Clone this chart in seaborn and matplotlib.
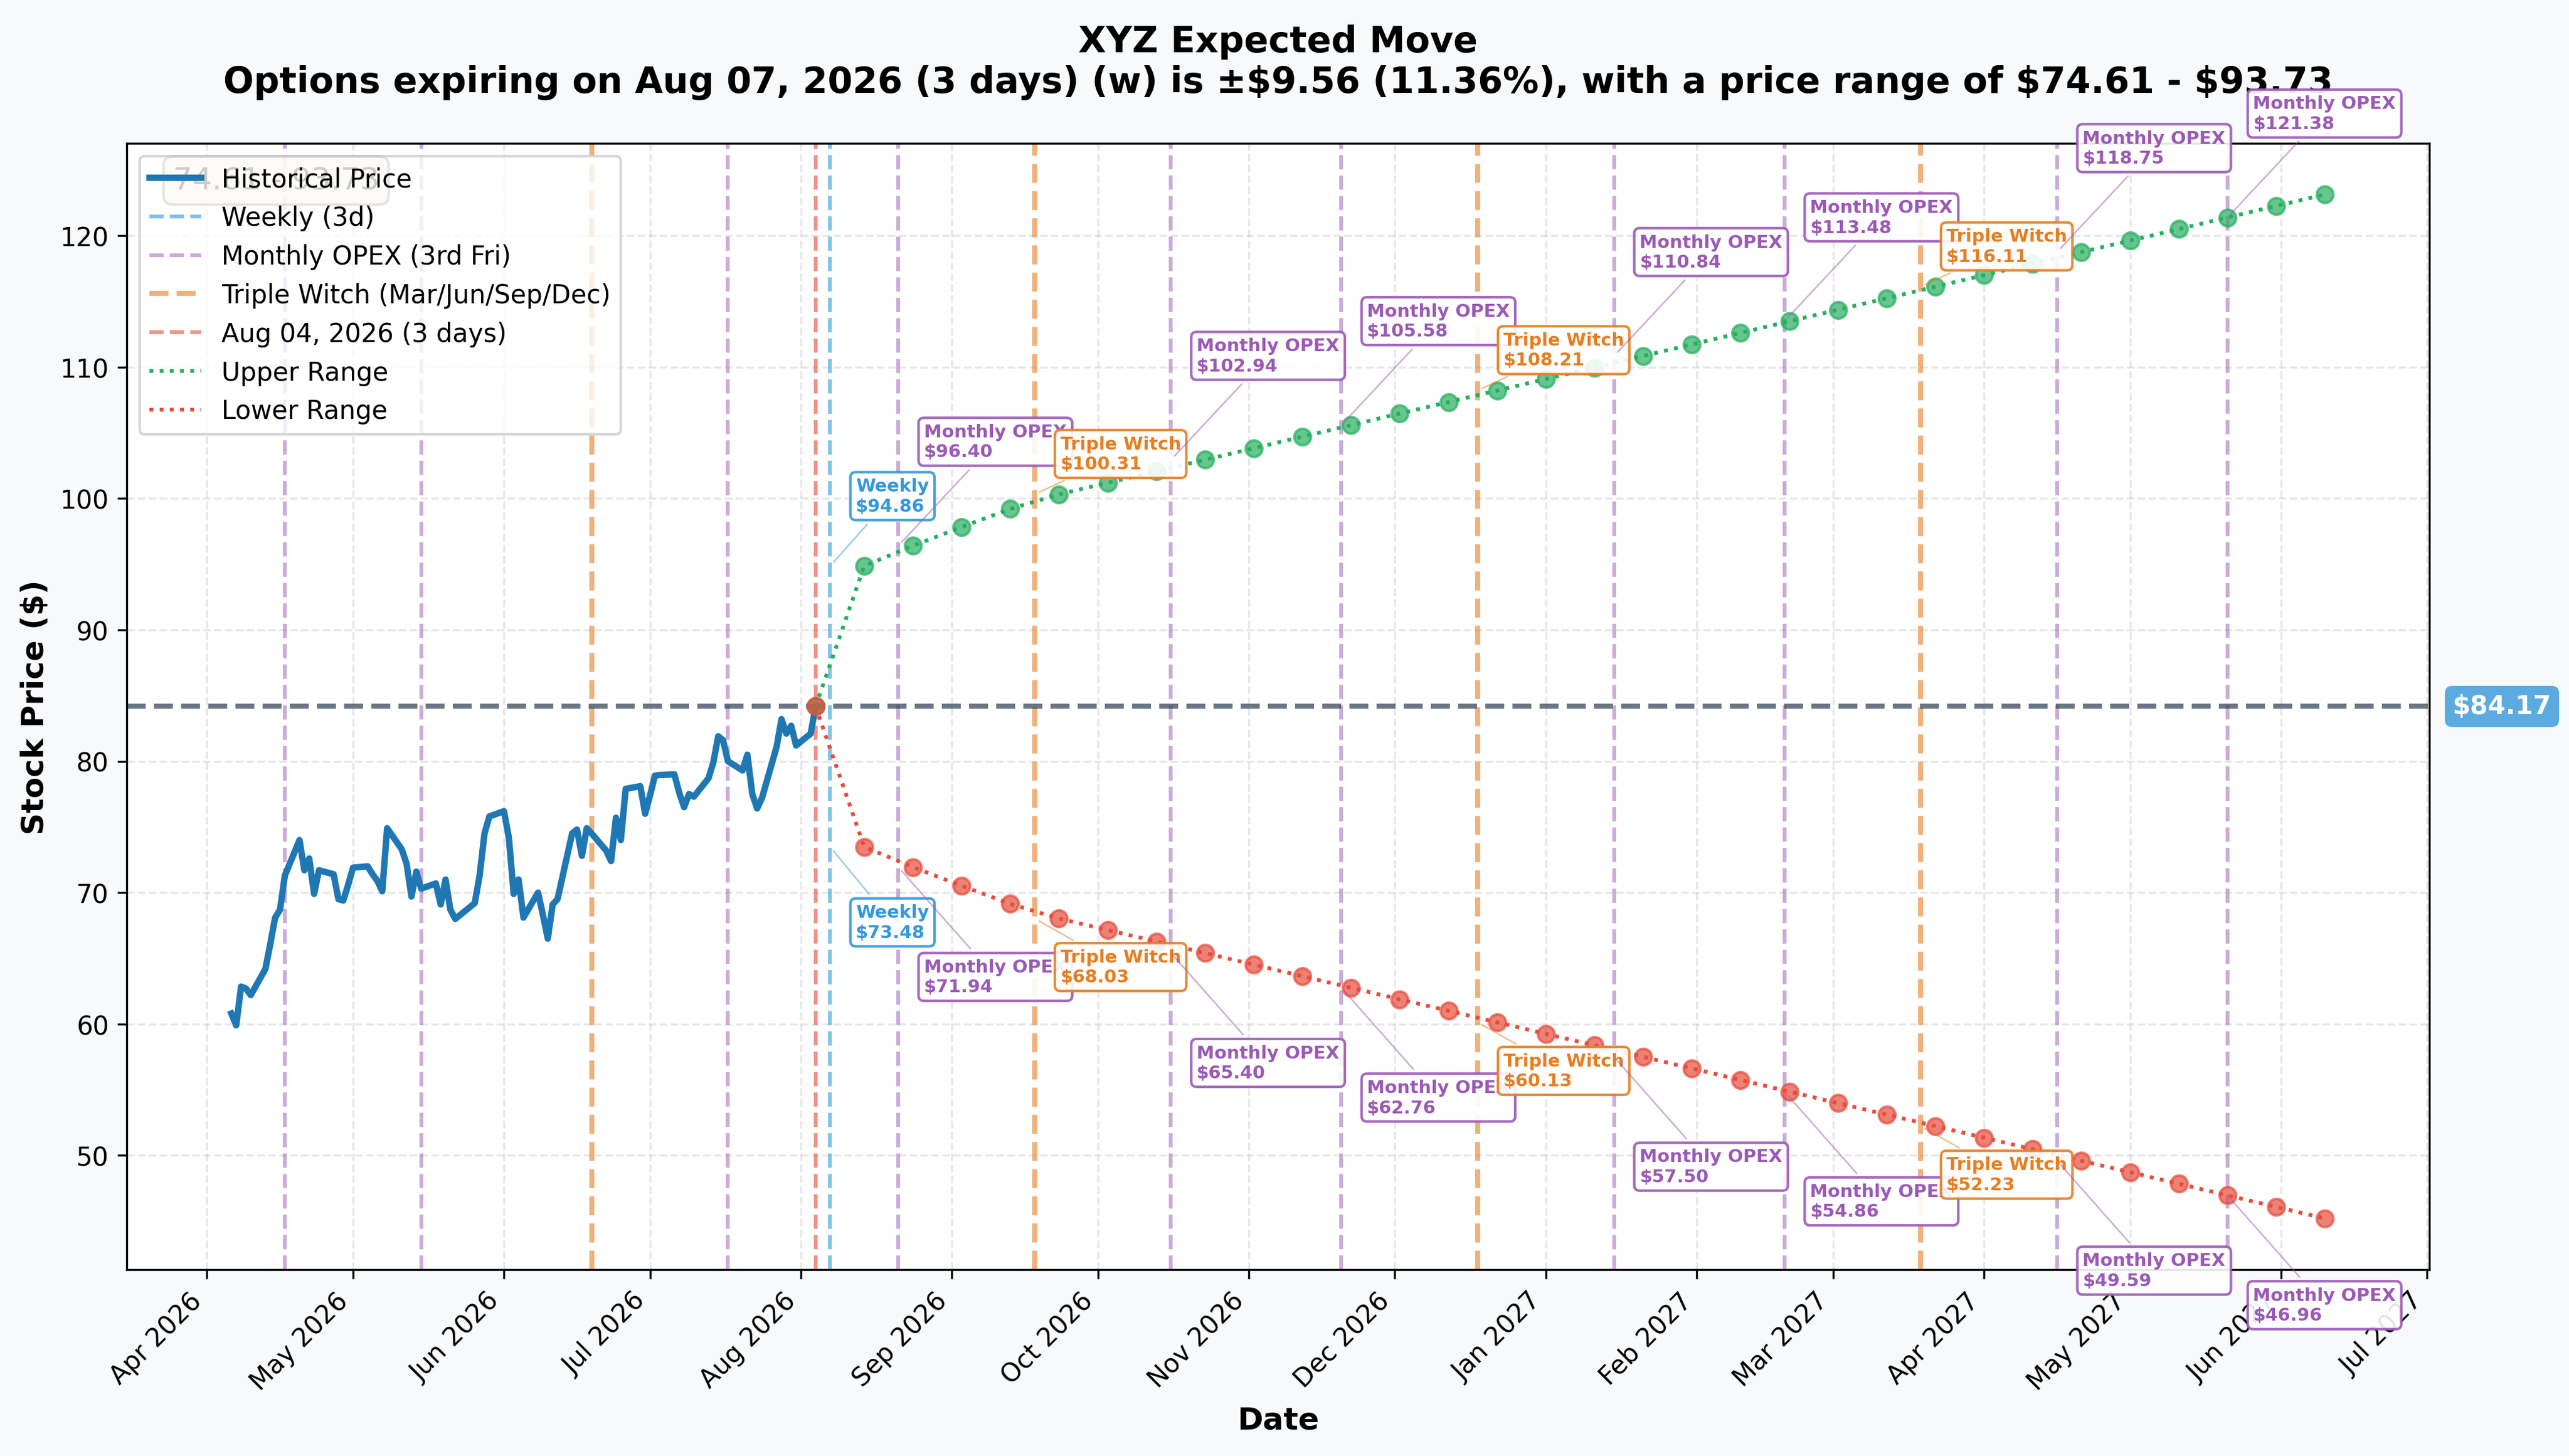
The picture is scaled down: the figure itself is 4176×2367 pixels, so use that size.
import pandas as pd
import matplotlib
matplotlib.use('Agg')
import matplotlib.pyplot as plt
import matplotlib.dates as mdates
import seaborn as sns

# daily closes, business days Apr 06 - Aug 04 2026
hist_dates = pd.bdate_range('2026-04-06', '2026-08-04')
hist_close = [
    60.8, 59.9, 62.85, 62.7, 62.2,
    64.2, 66.1, 68.1, 68.7, 71.3,
    74.0, 71.7, 72.6, 69.9, 71.7,
    71.4, 69.5, 69.4, 70.6, 71.9,
    72.0, 71.4, 70.9, 70.1, 74.9,
    73.3, 72.2, 69.7, 71.6, 70.3,
    70.7, 69.1, 71.0, 68.7, 68.0,
    68.9, 69.2, 71.3, 74.5, 75.8,
    76.2, 74.2, 69.9, 71.0, 68.1,
    70.0, 68.3, 66.5, 69.1, 69.5,
    74.5, 74.8, 72.8, 74.9, 74.5,
    73.2, 72.4, 75.7, 74.0, 77.9,
    78.1, 76.0, 77.4, 78.9, 78.95,
    79.0, 77.6, 76.5, 77.5, 77.3,
    78.7, 79.9, 81.9, 81.6, 80.0,
    79.3, 80.5, 77.5, 76.4, 77.2,
    81.1, 83.2, 82.1, 82.7, 81.2,
    82.1, 84.17,
]

current_date = '2026-08-04'
current_price = 84.17

# projected range points
range_dates = [
    '2026-08-14', '2026-08-24', '2026-09-03', '2026-09-13', '2026-09-23',
    '2026-10-03', '2026-10-13', '2026-10-23', '2026-11-02', '2026-11-12',
    '2026-11-22', '2026-12-02', '2026-12-12', '2026-12-22', '2027-01-01',
    '2027-01-11', '2027-01-21', '2027-01-31', '2027-02-10', '2027-02-20',
    '2027-03-02', '2027-03-12', '2027-03-22', '2027-04-01', '2027-04-11',
    '2027-04-21', '2027-05-01', '2027-05-11', '2027-05-21', '2027-05-31',
    '2027-06-10',
]
upper_range = [
    94.86, 96.40, 97.82, 99.20, 100.31, 101.19, 102.06, 102.94, 103.82, 104.70,
    105.58, 106.46, 107.33, 108.21, 109.09, 109.96, 110.84, 111.72, 112.60, 113.48,
    114.36, 115.23, 116.11, 116.99, 117.87, 118.75, 119.62, 120.50, 121.38, 122.26,
    123.13,
]
lower_range = [
    73.48, 71.94, 70.52, 69.14, 68.03, 67.15, 66.28, 65.40, 64.52, 63.64,
    62.76, 61.88, 61.01, 60.13, 59.25, 58.38, 57.50, 56.62, 55.74, 54.86,
    53.98, 53.11, 52.23, 51.35, 50.47, 49.59, 48.72, 47.84, 46.96, 46.08,
    45.21,
]

weekly_date = '2026-08-07'
opex_dates = ['2026-04-17', '2026-05-15', '2026-07-17', '2026-08-21', '2026-10-16',
              '2026-11-20', '2027-01-15', '2027-02-19', '2027-04-16', '2027-05-21']
witch_dates = ['2026-06-19', '2026-09-18', '2026-12-18', '2027-03-19']

# labelled expirations
event_dates = ['2026-08-07', '2026-08-21', '2026-09-18', '2026-10-16', '2026-11-20',
               '2026-12-18', '2027-01-15', '2027-02-19', '2027-03-19', '2027-04-16',
               '2027-05-21']
event_kinds = ['Weekly', 'Monthly OPEX', 'Triple Witch', 'Monthly OPEX', 'Monthly OPEX',
               'Triple Witch', 'Monthly OPEX', 'Monthly OPEX', 'Triple Witch',
               'Monthly OPEX', 'Monthly OPEX']
event_upper = [94.86, 96.40, 100.31, 102.94, 105.58, 108.21, 110.84, 113.48, 116.11, 118.75, 121.38]
event_lower = [73.48, 71.94, 68.03, 65.40, 62.76, 60.13, 57.50, 54.86, 52.23, 49.59, 46.96]

kind_color = {'Weekly': '#3498db', 'Monthly OPEX': '#9b59b6', 'Triple Witch': '#e67e22'}
kind_offset = {'Weekly': (20.0, 22.2), 'Monthly OPEX': (33.3, 35.6), 'Triple Witch': (8.5, 11.7)}

fig = plt.figure(figsize=(13.92, 7.8933), dpi=300, facecolor='#f8f9fa')
ax = fig.add_axes([0.0493, 0.128, 0.8964, 0.7732])
ax.set_facecolor('white')

# price history
sns.lineplot(x=hist_dates, y=hist_close, color='#1f77b4', linewidth=2.5,
             label='Historical Price', ax=ax, zorder=3)

# expected range
proj_dates = pd.to_datetime([current_date] + range_dates)
upper_line = [current_price] + upper_range
lower_line = [current_price] + lower_range
sns.lineplot(x=proj_dates, y=upper_line, color='#27ae60', linestyle=':', linewidth=1.5,
             label='Upper Range', ax=ax, zorder=3)
sns.lineplot(x=proj_dates, y=lower_line, color='#e74c3c', linestyle=':', linewidth=1.5,
             label='Lower Range', ax=ax, zorder=3)
sns.scatterplot(x=proj_dates, y=upper_line, color='#27ae60', s=42, alpha=0.7,
                edgecolor='#27ae60', linewidth=1, ax=ax, zorder=4, legend=False)
sns.scatterplot(x=proj_dates, y=lower_line, color='#e74c3c', s=42, alpha=0.7,
                edgecolor='#e74c3c', linewidth=1, ax=ax, zorder=4, legend=False)

# expiration markers
ax.axvline(pd.Timestamp(weekly_date), color='#3498db', linestyle='--', linewidth=1.5,
           alpha=0.6, label='Weekly (3d)', zorder=2)
for i, d in enumerate(opex_dates):
    ax.axvline(pd.Timestamp(d), color='#9b59b6', linestyle='--', linewidth=1.5, alpha=0.5,
               label='Monthly OPEX (3rd Fri)' if i == 0 else None, zorder=2)
for i, d in enumerate(witch_dates):
    ax.axvline(pd.Timestamp(d), color='#e67e22', linestyle='--', linewidth=2, alpha=0.6,
               label='Triple Witch (Mar/Jun/Sep/Dec)' if i == 0 else None, zorder=2)
ax.axvline(pd.Timestamp(current_date), color='#e74c3c', linestyle='--', linewidth=1.5,
           alpha=0.6, label='Aug 04, 2026 (3 days)', zorder=2)

ax.axhline(current_price, color='#2c3e50', linestyle='--', linewidth=2, alpha=0.7, zorder=2)
ax.text(1.01, current_price, f'${current_price:.2f}', transform=ax.get_yaxis_transform(),
        ha='left', va='center', fontsize=10, fontweight='bold', color='white',
        bbox=dict(boxstyle='round,pad=0.3', facecolor='#3498db', edgecolor='none', alpha=0.8),
        clip_on=False)

for d, kind, up, lo in zip(event_dates, event_kinds, event_upper, event_lower):
    c = kind_color[kind]
    up_off, lo_off = kind_offset[kind]
    box = dict(boxstyle='round,pad=0.3', facecolor='white', edgecolor=c, alpha=0.9, linewidth=1)
    arrow = dict(arrowstyle='-', color=c, alpha=0.5, lw=0.6)
    ax.annotate(f'{kind}\n${up:.2f}', xy=(pd.Timestamp(d), up), xytext=(10, up_off),
                textcoords='offset points', ha='left', va='bottom', fontsize=7,
                fontweight='bold', color=c, bbox=box, arrowprops=arrow, zorder=6)
    ax.annotate(f'{kind}\n${lo:.2f}', xy=(pd.Timestamp(d), lo), xytext=(10, -lo_off),
                textcoords='offset points', ha='left', va='top', fontsize=7,
                fontweight='bold', color=c, bbox=box, arrowprops=arrow, zorder=6)

ax.text(0.02, 0.98, '74.61 - 93.73', transform=ax.transAxes, fontsize=12,
        ha='left', va='top', bbox=dict(boxstyle='round', facecolor='wheat', alpha=0.5), zorder=3)

ax.set_title('XYZ Expected Move\nOptions expiring on Aug 07, 2026 (3 days) (w) is ±$9.56 (11.36%), '
             'with a price range of $74.61 - $93.73', fontsize=14, fontweight='bold', pad=20)
ax.set_xlabel('Date', fontsize=12, fontweight='bold')
ax.set_ylabel('Stock Price ($)', fontsize=12, fontweight='bold')

ax.xaxis.set_major_locator(mdates.MonthLocator())
ax.xaxis.set_major_formatter(mdates.DateFormatter('%b %Y'))
plt.setp(ax.get_xticklabels(), rotation=45, ha='right')
ax.grid(True, linestyle='--', alpha=0.3)
ax.set_axisbelow(True)

order = ['Historical Price', 'Weekly (3d)', 'Monthly OPEX (3rd Fri)', 'Triple Witch (Mar/Jun/Sep/Dec)',
         'Aug 04, 2026 (3 days)', 'Upper Range', 'Lower Range']
handles, labels = ax.get_legend_handles_labels()
lookup = dict(zip(labels, handles))
ax.legend([lookup[k] for k in order], order, loc='upper left', fontsize=10)

fig.savefig('out.png', dpi=300, facecolor=fig.get_facecolor())
